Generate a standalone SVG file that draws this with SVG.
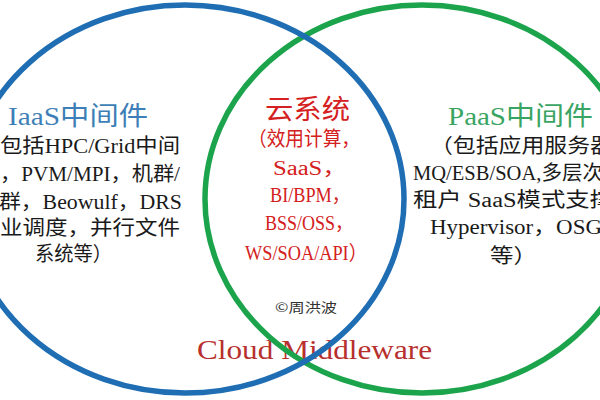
<svg xmlns="http://www.w3.org/2000/svg" width="600" height="400" viewBox="0 0 600 400">
<style>
  .ring { fill: none; stroke-width: 5.5; }
  .blue { stroke: #1f6eb4; }
  .green { stroke: #1ca44c; }
  text { font-family: "Liberation Serif", "Noto Sans CJK SC", serif; }
  .title { font-size: 26px; }
  .body { font-size: 20px; fill: #1a1a1a; }
  .red { font-size: 20px; fill: #d42020; }
  .redtitle { font-size: 27px; fill: #d42020; }
  .copy { font-size: 13px; fill: #333; font-family: "Noto Sans CJK SC", sans-serif; }
  .cm { font-size: 27px; fill: #b8302e; }
</style>
<rect width="600" height="400" fill="#ffffff"/>

<g id="label-cloud-middleware">
  <text class="cm" x="197" y="359" textLength="235" lengthAdjust="spacingAndGlyphs">Cloud Middleware</text>
</g>

<g id="circles">
  <ellipse id="paas-ring" class="ring green" cx="422" cy="199" rx="217" ry="194"/>
  <ellipse id="iaas-ring" class="ring blue" cx="185" cy="199" rx="219" ry="194"/>
</g>

<g id="iaas">
  <text class="title" x="8" y="125" fill="#3d7fb6" textLength="140" lengthAdjust="spacingAndGlyphs">IaaS中间件</text>
  <text class="body" x="0" y="153" textLength="180" lengthAdjust="spacingAndGlyphs">包括HPC/Grid中间</text>
  <text class="body" x="0" y="181" textLength="180" lengthAdjust="spacingAndGlyphs">，PVM/MPI，机群/</text>
  <text class="body" x="-1" y="209" textLength="183" lengthAdjust="spacingAndGlyphs">群，Beowulf，DRS</text>
  <text class="body" x="0" y="235" textLength="180" lengthAdjust="spacingAndGlyphs">业调度，并行文件</text>
  <text class="body" x="35" y="261" textLength="77" lengthAdjust="spacingAndGlyphs">系统等）</text>
</g>

<g id="paas">
  <text class="title" x="448" y="125" fill="#3aa563" textLength="145" lengthAdjust="spacingAndGlyphs">PaaS中间件</text>
  <text class="body" x="430" y="153" textLength="183" lengthAdjust="spacingAndGlyphs">（包括应用服务器</text>
  <text class="body" x="413" y="180" textLength="190" lengthAdjust="spacingAndGlyphs">MQ/ESB/SOA,多层次</text>
  <text class="body" x="413" y="207" textLength="201" lengthAdjust="spacingAndGlyphs">租户 SaaS模式支撑</text>
  <text class="body" x="430" y="234" textLength="172" lengthAdjust="spacingAndGlyphs">Hypervisor，OSG</text>
  <text class="body" x="490" y="263" textLength="47" lengthAdjust="spacingAndGlyphs">等）</text>
</g>

<g id="cloud-system">
  <text class="redtitle" x="265" y="119" textLength="85" lengthAdjust="spacingAndGlyphs">云系统</text>
  <text class="red" x="248" y="146" textLength="112" lengthAdjust="spacingAndGlyphs">（效用计算，</text>
  <text class="red" x="273" y="175" textLength="74" lengthAdjust="spacingAndGlyphs">SaaS，</text>
  <text class="red" x="270" y="202" textLength="80" lengthAdjust="spacingAndGlyphs">BI/BPM，</text>
  <text class="red" x="265" y="230" textLength="88" lengthAdjust="spacingAndGlyphs">BSS/OSS，</text>
  <text class="red" x="245" y="260" textLength="122" lengthAdjust="spacingAndGlyphs">WS/SOA/API）</text>
  <text class="copy" x="275" y="312" textLength="62" lengthAdjust="spacingAndGlyphs">©周洪波</text>
</g>
</svg>
